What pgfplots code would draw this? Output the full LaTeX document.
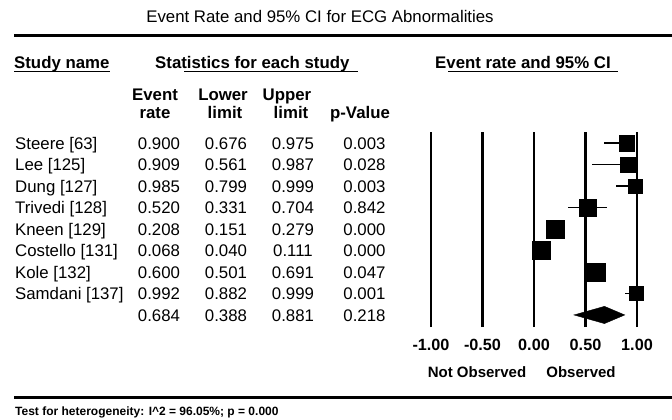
\documentclass[border=0pt]{standalone}
\usepackage{pgfplots}
\pgfplotsset{compat=1.18}
\usepackage{pgfplotstable}
\usepackage{fontspec}
\setmainfont{Liberation Sans}

\pgfplotstableread{
row er lo up ms
1 0.900 0.676 0.975 7.9
2 0.909 0.561 0.987 7.7
3 0.985 0.799 0.999 7.1
4 0.520 0.331 0.704 8.7
5 0.208 0.151 0.279 9.1
6 0.068 0.040 0.111 9.1
7 0.600 0.501 0.691 9.1
8 0.992 0.882 0.999 6.9
}\studies

\newcommand\F{\fontsize{16.8}{19}\selectfont}
\newcommand\FB{\fontsize{16.8}{19}\selectfont\bfseries}

\begin{document}
\begin{tikzpicture}[x=1pt,y=1pt]
\useasboundingbox (0,0) rectangle (672,-420);

% title and rules
\node[anchor=base, inner sep=0pt, font=\fontsize{16.8}{20}\selectfont] at (320,-22.5) {Event Rate and 95\% CI for ECG Abnormalities};
\draw[line width=3pt] (14,-35.5) -- (672,-35.5);
\draw[line width=3pt] (14,-397) -- (672,-397);

% headers
\node[anchor=base west, inner sep=0pt, font=\FB] at (14,-68.3) {Study name};
\draw[line width=1.3pt] (14,-71.5) -- (110,-71.5);
\node[anchor=base west, inner sep=0pt, font=\FB] at (155,-68.3) {Statistics for each study};
\draw[line width=1.3pt] (184,-71.2) -- (358,-71.2);
\node[anchor=base west, inner sep=0pt, font=\FB] at (435,-68.3) {Event rate and 95\% CI};
\draw[line width=1.3pt] (448,-71.2) -- (618,-71.2);

\node[anchor=base, inner sep=0pt, font=\FB] at (155,-100) {Event};
\node[anchor=base, inner sep=0pt, font=\FB] at (155,-118.5) {rate};
\node[anchor=base, inner sep=0pt, font=\FB] at (223,-100) {Lower};
\node[anchor=base, inner sep=0pt, font=\FB] at (225,-118.5) {limit};
\node[anchor=base, inner sep=0pt, font=\FB] at (287,-100) {Upper};
\node[anchor=base, inner sep=0pt, font=\FB] at (291,-118.5) {limit};
\node[anchor=base, inner sep=0pt, font=\FB] at (360,-118.5) {p-Value};

% table rows
\foreach \n/\a/\b/\c/\d [count=\i] in {
  {Steere [63]}/0.900/0.676/0.975/0.003,
  {Lee [125]}/0.909/0.561/0.987/0.028,
  {Dung [127]}/0.985/0.799/0.999/0.003,
  {Trivedi [128]}/0.520/0.331/0.704/0.842,
  {Kneen [129]}/0.208/0.151/0.279/0.000,
  {Costello [131]}/0.068/0.040/0.111/0.000,
  {Kole [132]}/0.600/0.501/0.691/0.047,
  {Samdani [137]}/0.992/0.882/0.999/0.001,
  {}/0.684/0.388/0.881/0.218}{
  \pgfmathsetmacro\yy{-(149+21.5*(\i-1))}
  \node[anchor=base west, inner sep=0pt, font=\F] at (15,\yy) {\n};
  \node[anchor=base, inner sep=0pt, font=\F] at (159,\yy) {\a};
  \node[anchor=base, inner sep=0pt, font=\F] at (226,\yy) {\b};
  \node[anchor=base, inner sep=0pt, font=\F] at (293,\yy) {\c};
  \node[anchor=base, inner sep=0pt, font=\F] at (364.5,\yy) {\d};
}

% forest plot
\begin{axis}[at={(425.85pt,-327pt)}, anchor=south west, scale only axis,
  width=216.3pt, height=195pt,
  xmin=-1.05, xmax=1.05, ymin=-9.56, ymax=-0.49,
  axis line style={draw=none}, ytick=\empty,
  xtick={-1,-0.5,0,0.5,1}, xticklabels={-1.00,-0.50,0.00,0.50,1.00},
  xmajorgrids, major grid style={black, line width=2.2pt},
  major tick length=0pt,
  xticklabel style={font=\fontsize{16.2}{19}\selectfont\bfseries, anchor=base, inner sep=0pt, yshift=-23.7pt},
  clip=false]
\addplot[only marks, mark=none,
  error bars/.cd, x dir=both, x explicit, error mark=none,
  error bar style={black, line width=1.6pt}]
  table[x=er, y expr=-\thisrow{row},
        x error plus expr=\thisrow{up}-\thisrow{er},
        x error minus expr=\thisrow{er}-\thisrow{lo}] {\studies};
\addplot[scatter, only marks, mark=square*,
  scatter/use mapped color={draw=black, fill=black},
  visualization depends on={\thisrow{ms} \as \msz},
  scatter/@pre marker code/.append style={/tikz/mark size=\msz},
  mark options={line width=0.4pt}]
  table[x=er, y expr=-\thisrow{row}] {\studies};
\addplot[fill=black, draw=black] coordinates {(0.388,-9) (0.684,-8.6) (0.881,-9) (0.684,-9.4)} -- cycle;
\end{axis}

\node[anchor=base, inner sep=0pt, font=\fontsize{15}{18}\selectfont\bfseries] at (477,-377.3) {Not Observed};
\node[anchor=base, inner sep=0pt, font=\fontsize{15}{18}\selectfont\bfseries] at (581,-377.3) {Observed};
\node[anchor=base west, inner sep=0pt, font=\fontsize{12}{14}\selectfont\bfseries] at (15,-415) {Test for heterogeneity: I\^{}2 = 96.05\%; p = 0.000};
\end{tikzpicture}
\end{document}
